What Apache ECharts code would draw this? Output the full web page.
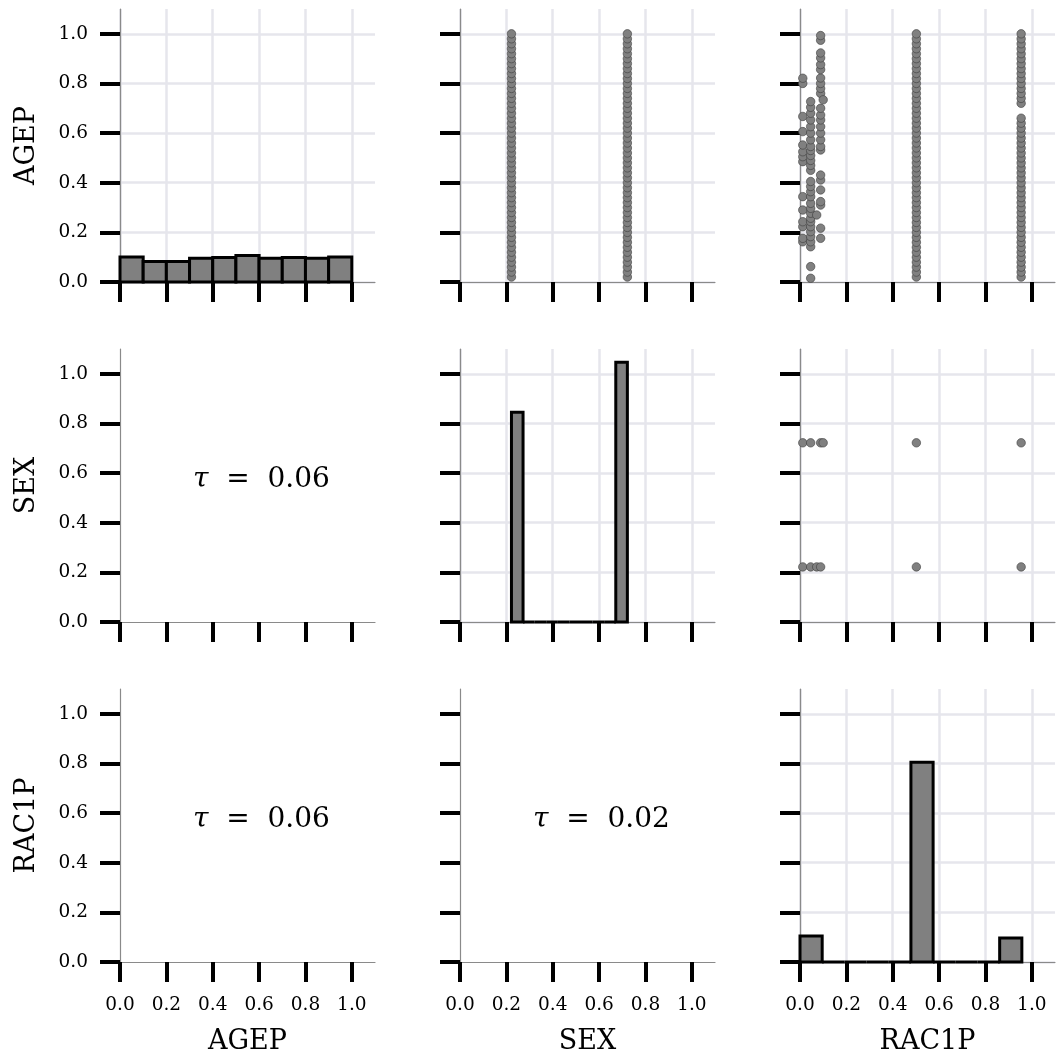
<!DOCTYPE html>
<html>
<head>
<meta charset="utf-8">
<script src="https://cdn.jsdelivr.net/npm/echarts@6/dist/echarts.min.js"></script>
<style>
  html, body { margin: 0; padding: 0; background: #ffffff; }
  #chart { width: 1056px; height: 1061px; }
</style>
</head>
<body>
<div id="chart"></div>
<script>
// Variables of the pair plot (rows and columns share the same order)
const variables = ['AGEP', 'SEX', 'RAC1P'];
const tickValues = [0, 0.2, 0.4, 0.6, 0.8, 1.0];
const tickLabels = ['0.0', '0.2', '0.4', '0.6', '0.8', '1.0'];

// Diagonal histograms: bin edges and bar heights
const agepBinEdges = [0, 0.1, 0.2, 0.3, 0.4, 0.5, 0.6, 0.7, 0.8, 0.9, 1.0];
const agepBinHeights = [0.101, 0.083, 0.083, 0.096, 0.099, 0.107, 0.096, 0.099, 0.096, 0.101];
const sexBinEdges = [0.222, 0.272, 0.322, 0.372, 0.422, 0.472, 0.522, 0.572, 0.622, 0.672, 0.722];
const sexBinHeights = [0.845, 0, 0, 0, 0, 0, 0, 0, 0, 1.047];
const racBinEdges = [0, 0.0957, 0.1914, 0.2871, 0.3828, 0.4785, 0.5742, 0.6699, 0.7656, 0.8613, 0.957];
const racBinHeights = [0.105, 0, 0, 0, 0, 0.805, 0, 0, 0, 0.097];

// Distinct scaled values of each variable
const sexLevels = [0.222, 0.722];
const agepLevels = [0.02, 0.04, 0.06, 0.08, 0.10, 0.12, 0.14, 0.16, 0.18, 0.20,
                    0.22, 0.24, 0.26, 0.28, 0.30, 0.32, 0.34, 0.36, 0.38, 0.40,
                    0.42, 0.44, 0.46, 0.48, 0.50, 0.52, 0.54, 0.56, 0.58, 0.60,
                    0.62, 0.64, 0.66, 0.68, 0.70, 0.72, 0.74, 0.76, 0.78, 0.80,
                    0.82, 0.84, 0.86, 0.88, 0.90, 0.92, 0.94, 0.96, 0.98, 1.00];
const racLevels = [0.012, 0.046, 0.072, 0.089, 0.1, 0.502, 0.954];

// AGEP values observed for each RAC1P level (same order as racLevels)
const agepRace0 = [0.162, 0.176, 0.223, 0.243, 0.29, 0.344, 0.485, 0.505, 0.525, 0.552, 0.606, 0.667, 0.8, 0.821];
const agepRace1 = [0.015, 0.062, 0.142, 0.162, 0.183, 0.203, 0.223, 0.243, 0.257, 0.277, 0.297, 0.317, 0.344,
                   0.364, 0.385, 0.405, 0.45, 0.47, 0.49, 0.51, 0.53, 0.546, 0.573, 0.6, 0.626, 0.653, 0.68, 0.704, 0.727];
const agepRace2 = [0.27];
const agepRace3 = [0.176, 0.217, 0.31, 0.324, 0.371, 0.411, 0.431, 0.532, 0.546, 0.573, 0.6, 0.626, 0.653, 0.673,
                   0.7, 0.76, 0.78, 0.8, 0.822, 0.856, 0.876, 0.903, 0.923, 0.974, 0.993];
const agepRace4 = [0.734];
const agepRace5 = agepLevels;
const agepRace6 = [0.02, 0.04, 0.06, 0.08, 0.10, 0.12, 0.14, 0.16, 0.18, 0.20,
                   0.22, 0.24, 0.26, 0.28, 0.30, 0.32, 0.34, 0.36, 0.38, 0.40,
                   0.42, 0.44, 0.46, 0.48, 0.50, 0.52, 0.54, 0.56, 0.58, 0.60,
                   0.62, 0.64, 0.66, 0.72, 0.74, 0.76, 0.78, 0.80,
                   0.82, 0.84, 0.86, 0.88, 0.90, 0.92, 0.94, 0.96, 0.98, 1.00];
const agepByRace = [agepRace0, agepRace1, agepRace2, agepRace3, agepRace4, agepRace5, agepRace6];

// (RAC1P, SEX) combinations present
const racSexPairs = [
  [0.012, 0.722], [0.046, 0.722], [0.089, 0.722], [0.1, 0.722], [0.502, 0.722], [0.954, 0.722],
  [0.012, 0.222], [0.046, 0.222], [0.072, 0.222], [0.089, 0.222], [0.502, 0.222], [0.954, 0.222]
];

// Kendall's tau for the lower triangle: [row, col, tau]
const tauValues = [[1, 0, '0.06'], [2, 0, '0.06'], [2, 1, '0.02']];

// ---------- layout ----------
const colLeft = [120, 460, 800];
const rowTop = [9, 349, 689];
const cellW = 255, cellH = 273;
const serif = 'DejaVu Serif';

const grids = [], xAxes = [], yAxes = [], series = [];

function fmt(v) {
  const i = tickValues.findIndex(t => Math.abs(t - v) < 1e-9);
  return i >= 0 ? tickLabels[i] : '';
}

for (let r = 0; r < 3; r++) {
  for (let c = 0; c < 3; c++) {
    const k = r * 3 + c;
    const showGrid = c >= r;
    grids.push({ left: colLeft[c], top: rowTop[r], width: cellW, height: cellH });
    const common = {
      gridIndex: k, type: 'value', min: 0, max: 1.1,
      axisLine: { show: true, onZero: false, lineStyle: { color: '#8a8a8a', width: 1.2 } },
      axisTick: { show: true, length: 20, customValues: tickValues, lineStyle: { color: '#000', width: 4 } },
      splitLine: { show: showGrid, lineStyle: { color: '#e6e6ec', width: 2.5 } },
      nameLocation: 'middle',
      nameTextStyle: { fontFamily: serif, fontSize: 27, color: '#000' }
    };
    xAxes.push(Object.assign({}, common, {
      axisLabel: { show: r === 2, customValues: tickValues, formatter: fmt, margin: 34,
                   fontFamily: serif, fontSize: 18.5, color: '#000' },
      name: r === 2 ? variables[c] : '',
      nameGap: 66
    }));
    yAxes.push(Object.assign({}, common, {
      axisLabel: { show: c === 0, customValues: tickValues, formatter: fmt, margin: 32,
                   fontFamily: serif, fontSize: 18.5, color: '#000' },
      name: c === 0 ? variables[r] : '',
      nameGap: 80
    }));
  }
}

// Histogram drawn from bin edges through the axis scales
function histSeries(k, edges, heights) {
  const data = heights.map((h, i) => [edges[i], edges[i + 1], h]);
  return {
    type: 'custom', xAxisIndex: k, yAxisIndex: k, clip: false, z: 3,
    encode: { x: [0, 1], y: 2 },
    data: data,
    renderItem: function (params, api) {
      const p0 = api.coord([api.value(0), api.value(2)]);
      const p1 = api.coord([api.value(1), 0]);
      return {
        type: 'rect',
        shape: { x: p0[0], y: p0[1], width: p1[0] - p0[0], height: p1[1] - p0[1] },
        style: { fill: '#808080', stroke: '#000000', lineWidth: 3 }
      };
    }
  };
}
series.push(histSeries(0, agepBinEdges, agepBinHeights));
series.push(histSeries(4, sexBinEdges, sexBinHeights));
series.push(histSeries(8, racBinEdges, racBinHeights));

const pointStyle = { color: '#808080', borderColor: '#3c3c3c', borderWidth: 0.6, opacity: 1 };
function scatterSeries(k, data) {
  return { type: 'scatter', xAxisIndex: k, yAxisIndex: k, symbol: 'circle', symbolSize: 8.5,
           itemStyle: pointStyle, data: data, z: 3 };
}

// SEX (x) against AGEP (y)
const sexAge = [];
sexLevels.forEach(s => agepLevels.forEach(a => sexAge.push([s, a])));
series.push(scatterSeries(1, sexAge));

// RAC1P (x) against AGEP (y)
const racAge = [];
racLevels.forEach((rv, i) => agepByRace[i].forEach(a => racAge.push([rv, a])));
series.push(scatterSeries(2, racAge));

// RAC1P (x) against SEX (y)
series.push(scatterSeries(5, racSexPairs));

// Kendall's tau annotations
tauValues.forEach(([r, c, t]) => {
  const k = r * 3 + c;
  series.push({
    type: 'scatter', xAxisIndex: k, yAxisIndex: k, symbolSize: 0, silent: true,
    itemStyle: { opacity: 1 },
    data: [[0.61, 0.575]],
    label: {
      show: true, position: 'inside',
      formatter: '{i|τ}  =  ' + t,
      fontFamily: serif, fontSize: 28, color: '#000',
      rich: { i: { fontFamily: serif, fontStyle: 'italic', fontSize: 28, color: '#000' } }
    }
  });
});

const chart = echarts.init(document.getElementById('chart'), null, { renderer: 'canvas' });
chart.setOption({
  animation: false,
  backgroundColor: '#ffffff',
  grid: grids,
  xAxis: xAxes,
  yAxis: yAxes,
  series: series
});
</script>
</body>
</html>
